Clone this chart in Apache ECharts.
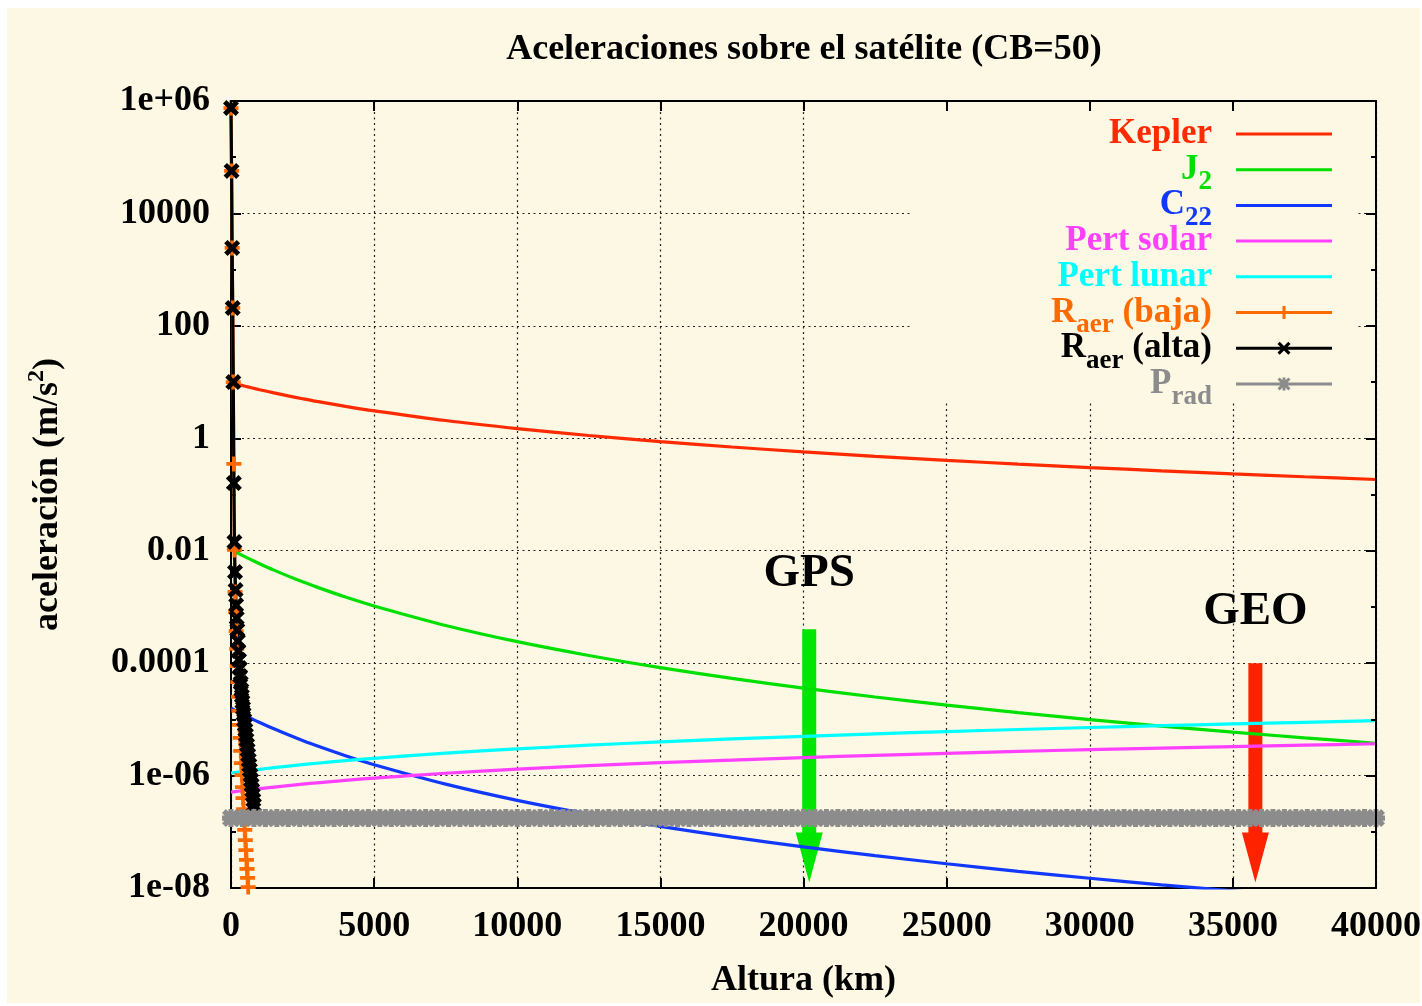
<!DOCTYPE html>
<html>
<head>
<meta charset="utf-8">
<title>Aceleraciones sobre el satélite</title>
<script src="https://cdn.jsdelivr.net/npm/echarts@6/dist/echarts.min.js"></script>
<style>
  html, body { margin: 0; padding: 0; background: #ffffff; }
  #chart { width: 1422px; height: 1006px; }
</style>
</head>
<body>
<div id="chart"></div>
<script>
// Altitude samples (km) for the smooth perturbation curves
const altitudes = [0, 250, 500, 750, 1000, 1500, 2000, 2500, 3000, 4000, 5000, 7500, 10000,
  12500, 15000, 17500, 20000, 22500, 25000, 27500, 30000, 32500, 35000, 37500, 40000];

// Accelerations (m/s^2)
const kepler = [9.80, 9.07, 8.43, 7.85, 7.32, 6.42, 5.68, 5.06, 4.53, 3.70, 3.08, 2.07, 1.49,
  1.12, 0.872, 0.699, 0.573, 0.478, 0.405, 0.347, 0.301, 0.264, 0.233, 0.207, 0.185];
const j2 = [1.05e-2, 9.00e-3, 7.76e-3, 6.73e-3, 5.86e-3, 4.51e-3, 3.53e-3, 2.80e-3, 2.25e-3,
  1.50e-3, 1.04e-3, 4.68e-4, 2.41e-4, 1.37e-4, 8.32e-5, 5.35e-5, 3.59e-5, 2.50e-5, 1.79e-5,
  1.32e-5, 9.92e-6, 7.60e-6, 5.93e-6, 4.69e-6, 3.76e-6];
const c22 = [1.58e-5, 1.35e-5, 1.17e-5, 1.01e-5, 8.82e-6, 6.79e-6, 5.31e-6, 4.21e-6, 3.38e-6,
  2.25e-6, 1.56e-6, 7.05e-7, 3.63e-7, 2.06e-7, 1.25e-7, 8.04e-8, 5.40e-8, 3.76e-8, 2.70e-8,
  1.98e-8, 1.49e-8, 1.14e-8, 8.93e-9, 7.05e-9, 5.66e-9];
const solar = [5.06e-7, 5.26e-7, 5.45e-7, 5.65e-7, 5.85e-7, 6.25e-7, 6.64e-7, 7.04e-7, 7.44e-7,
  8.23e-7, 9.02e-7, 1.10e-6, 1.30e-6, 1.50e-6, 1.70e-6, 1.89e-6, 2.09e-6, 2.29e-6, 2.49e-6,
  2.69e-6, 2.89e-6, 3.08e-6, 3.28e-6, 3.48e-6, 3.68e-6];
const lunar = [1.110e-6, 1.155e-6, 1.200e-6, 1.245e-6, 1.291e-6, 1.382e-6, 1.473e-6, 1.565e-6,
  1.656e-6, 1.842e-6, 2.028e-6, 2.501e-6, 2.982e-6, 3.473e-6, 3.972e-6, 4.481e-6, 4.998e-6,
  5.525e-6, 6.060e-6, 6.605e-6, 7.158e-6, 7.721e-6, 8.292e-6, 8.873e-6, 9.462e-6];

// Atmospheric drag, low solar activity
const dragLowAltitudes = [0, 20, 40, 60, 80, 100, 120, 140, 160, 180, 200, 220, 240, 260, 280,
  300, 320, 340, 360, 380, 400, 420, 440, 460, 480, 500, 520, 540, 560, 580, 600];
const dragLow = [7.5e5, 5.7e4, 2.43e3, 208, 10, 0.35, 1.03e-2, 1.85e-3, 8.13e-4, 3.73e-4, 1.79e-4,
  8.89e-5, 4.61e-5, 2.50e-5, 1.41e-5, 7.94e-6, 4.66e-6, 2.74e-6, 1.67e-6, 1.02e-6, 6.26e-7,
  3.99e-7, 2.54e-7, 1.62e-7, 1.08e-7, 7.14e-8, 4.74e-8, 3.15e-8, 2.18e-8, 1.51e-8, 1.04e-8];

// Atmospheric drag, high solar activity
const dragHighAltitudes = [0, 20, 40, 60, 80, 100, 120, 140, 160, 180, 200, 220, 240, 260, 280,
  300, 320, 340, 360, 380, 400, 420, 440, 460, 480, 500, 520, 540, 560, 580, 600, 620, 640, 660,
  680, 700, 720, 740, 760, 780, 800];
const dragHigh = [7.5e5, 5.7e4, 2.43e3, 208, 10, 0.16, 1.43e-2, 4.18e-3, 2.00e-3, 1.08e-3, 6.35e-4,
  3.89e-4, 2.48e-4, 1.64e-4, 1.14e-4, 8.20e-5, 5.90e-5, 4.44e-5, 3.33e-5, 2.60e-5, 2.04e-5,
  1.59e-5, 1.24e-5, 9.75e-6, 7.94e-6, 6.47e-6, 5.27e-6, 4.30e-6, 3.50e-6, 2.85e-6, 2.32e-6,
  1.89e-6, 1.54e-6, 1.26e-6, 1.02e-6, 8.34e-7, 6.79e-7, 5.53e-7, 4.51e-7, 3.67e-7, 2.99e-7];

// Solar radiation pressure (constant with altitude), marker positions
const pradAltitudes = [0, 400, 800, 1200, 1600, 2000, 2400, 2800, 3200, 3600, 4000, 4400, 4800,
  5200, 5600, 6000, 6400, 6800, 7200, 7600, 8000, 8400, 8800, 9200, 9600, 10000, 10400, 10800,
  11200, 11600, 12000, 12400, 12800, 13200, 13600, 14000, 14400, 14800, 15200, 15600, 16000,
  16400, 16800, 17200, 17600, 18000, 18400, 18800, 19200, 19600, 20000, 20400, 20800, 21200,
  21600, 22000, 22400, 22800, 23200, 23600, 24000, 24400, 24800, 25200, 25600, 26000, 26400,
  26800, 27200, 27600, 28000, 28400, 28800, 29200, 29600, 30000, 30400, 30800, 31200, 31600,
  32000, 32400, 32800, 33200, 33600, 34000, 34400, 34800, 35200, 35600, 36000, 36400, 36800,
  37200, 37600, 38000, 38400, 38800, 39200, 39600, 40000];
const pradValue = 1.75e-7;

// Reference orbits marked with arrows
const orbitNames = ['GPS', 'GEO'];
const orbitAltitudes = [20200, 35786];
const arrowTops = [4e-4, 1e-4];
const arrowTips = [1.25e-8, 1.25e-8];

// Decade exponents shown on the y axis and their labels
const yTickLabels = { '6': '1e+06', '4': '10000', '2': '100', '0': '1',
  '-2': '0.01', '-4': '0.0001', '-6': '1e-06', '-8': '1e-08' };

const FONT = '"Liberation Serif", "Times New Roman", serif';
const BG = '#fcf8e3';
const COLORS = {
  kepler: '#ff2a00', j2: '#00e000', c22: '#1038ff', solar: '#ff40ff',
  lunar: '#00ffff', low: '#ff6a00', high: '#000000', prad: '#8c8c8c'
};
const arrowColors = ['#00e600', '#ff2200'];
const arrowLabelGaps = [55, 51];

// Marker shapes
const PLUS_SYM = 'path://M6,0H10V6H16V10H10V16H6V10H0V6H6Z';
const X_SYM = 'path://M3.4,0L8,4.6L12.6,0L16,3.4L11.4,8L16,12.6L12.6,16L8,11.4L3.4,16L0,12.6L4.6,8L0,3.4Z';
const STAR_SYM = 'path://M5.75,0H10.25V5.75H16V10.25H10.25V16H5.75V10.25H0V5.75H5.75Z M3.4,0L8,4.6L12.6,0L16,3.4L11.4,8L16,12.6L12.6,16L8,11.4L3.4,16L0,12.6L4.6,8L0,3.4Z';

// Legend samples: a line, optionally with the marker in the middle
const LINE_ICON = 'path://M0,0H96V3H0Z';
const PLUS_ICON = 'path://M0,5H96V8H0Z M46.5,0H49.5V5H54.5V8H49.5V13H46.5V8H41.5V5H46.5Z';
const X_ICON = 'path://M0,5H96V8H0Z M43.7,0L48,4.3L52.3,0L54.5,2.2L50.2,6.5L54.5,10.8L52.3,13L48,8.7L43.7,13L41.5,10.8L45.8,6.5L41.5,2.2Z';
const STAR_ICON = 'path://M0,5H96V8H0Z M46.5,0H49.5V5H54.5V8H49.5V13H46.5V8H41.5V5H46.5Z M43.7,0L48,4.3L52.3,0L54.5,2.2L50.2,6.5L54.5,10.8L52.3,13L48,8.7L43.7,13L41.5,10.8L45.8,6.5L41.5,2.2Z';

const legendLabels = {
  'Kepler': 'Kepler',
  'J2': 'J{sub|2}',
  'C22': 'C{sub|22}',
  'Pert solar': 'Pert solar',
  'Pert lunar': 'Pert lunar',
  'Raer (baja)': 'R{sub|aer} (baja)',
  'Raer (alta)': 'R{sub|aer} (alta)',
  'Prad': 'P{sub|rad}'
};

// Pair altitudes with log10 of the acceleration (the y axis runs in decades)
function toLog(xs, vs) {
  return xs.map((x, i) => [x, Math.log10(vs[i])]);
}

const boldText = { fontFamily: FONT, fontWeight: 'bold', color: '#000' };
const dotted = { color: '#222', width: 1.2, type: [2, 3.5] };
const LEGEND_ROW = 52.4;

function curve(name, xs, vs, color) {
  return {
    name, type: 'line', data: toLog(xs, vs), symbol: 'none', smooth: 0.3,
    lineStyle: { color, width: 3.2 }, itemStyle: { color }, clip: true, z: 2
  };
}

function marked(name, xs, vs, color, symbol, size) {
  return {
    name, type: 'line', data: toLog(xs, vs), symbol, symbolSize: size, showSymbol: true,
    lineStyle: { color, width: 3.2 }, itemStyle: { color }, clip: true, z: 2
  };
}

const chart = echarts.init(document.getElementById('chart'), null, { renderer: 'canvas' });

const option = {
  animation: false,
  backgroundColor: '#ffffff',
  title: {
    text: 'Aceleraciones sobre el satélite (CB=50)',
    left: 804, top: 32, padding: 0, textAlign: 'center',
    textStyle: { ...boldText, fontSize: 36, lineHeight: 36 }
  },
  graphic: [
    { type: 'rect', z: -10, shape: { x: 7, y: 8, width: 1413, height: 995 }, style: { fill: BG } },
    // the key box hides the grid behind it
    { type: 'rect', z: 1, shape: { x: 912, y: 103, width: 443, height: 297 }, style: { fill: BG } }
  ],
  grid: { left: 231, top: 101, width: 1145, height: 787, outerBoundsMode: 'none' },
  legend: {
    orient: 'vertical', right: 90, top: 134 - LEGEND_ROW / 2, align: 'right', padding: 0,
    itemWidth: 96, itemHeight: 16, itemGap: 35.7 - LEGEND_ROW, selectedMode: false,
    formatter: name => legendLabels[name],
    textStyle: {
      fontFamily: FONT, fontWeight: 'bold', fontSize: 35, lineHeight: LEGEND_ROW,
      padding: [0, 19, 0, 0],
      rich: {
        sub: { fontFamily: FONT, fontWeight: 'bold', fontSize: 27, lineHeight: LEGEND_ROW, verticalAlign: 'bottom' }
      }
    },
    data: [
      { name: 'Kepler', icon: LINE_ICON, textStyle: { color: COLORS.kepler } },
      { name: 'J2', icon: LINE_ICON, textStyle: { color: COLORS.j2 } },
      { name: 'C22', icon: LINE_ICON, textStyle: { color: COLORS.c22 } },
      { name: 'Pert solar', icon: LINE_ICON, textStyle: { color: COLORS.solar } },
      { name: 'Pert lunar', icon: LINE_ICON, textStyle: { color: COLORS.lunar } },
      { name: 'Raer (baja)', icon: PLUS_ICON, textStyle: { color: COLORS.low } },
      { name: 'Raer (alta)', icon: X_ICON, textStyle: { color: COLORS.high } },
      { name: 'Prad', icon: STAR_ICON, textStyle: { color: COLORS.prad } }
    ]
  },
  xAxis: [
    {
      type: 'value', position: 'bottom', min: 0, max: 40000, interval: 5000, z: 0,
      axisLine: { onZero: false, lineStyle: { color: '#000', width: 2 } },
      axisTick: { inside: true, length: 10, lineStyle: { color: '#000', width: 2 } },
      axisLabel: { ...boldText, fontSize: 36, lineHeight: 36, margin: 21, formatter: v => String(v) },
      splitLine: { show: true, lineStyle: dotted },
      name: 'Altura (km)', nameLocation: 'middle', nameGap: 75,
      nameTextStyle: { ...boldText, fontSize: 36, lineHeight: 36 }
    },
    {
      type: 'value', position: 'top', min: 0, max: 40000, interval: 5000, z: 3,
      axisLine: { onZero: false, lineStyle: { color: '#000', width: 2 } },
      axisTick: { inside: true, length: 10, lineStyle: { color: '#000', width: 2 } },
      axisLabel: { show: false }, splitLine: { show: false }
    }
  ],
  yAxis: [
    {
      type: 'value', position: 'left', min: -8, max: 6, interval: 2, z: 0,
      axisLine: { onZero: false, lineStyle: { color: '#000', width: 2 } },
      axisTick: { inside: true, length: 10, lineStyle: { color: '#000', width: 2 } },
      minorTick: { show: true, splitNumber: 2, length: 5, lineStyle: { color: '#000', width: 2 } },
      axisLabel: { ...boldText, fontSize: 36, margin: 21, formatter: v => yTickLabels[String(v)] },
      splitLine: { show: true, lineStyle: dotted },
      name: 'aceleración (m/s{sup|2})', nameLocation: 'middle', nameGap: 165, nameRotate: 90,
      nameTextStyle: {
        ...boldText, fontSize: 36, lineHeight: 36,
        rich: { sup: { fontFamily: FONT, fontWeight: 'bold', color: '#000', fontSize: 24, lineHeight: 36, padding: [0, 0, 22, 0] } }
      }
    },
    {
      type: 'value', position: 'right', min: -8, max: 6, interval: 2, z: 3,
      axisLine: { onZero: false, lineStyle: { color: '#000', width: 2 } },
      axisTick: { inside: true, length: 10, lineStyle: { color: '#000', width: 2 } },
      minorTick: { show: true, splitNumber: 2, length: 5, lineStyle: { color: '#000', width: 2 } },
      axisLabel: { show: false }, splitLine: { show: false }
    }
  ],
  series: [
    {
      name: 'orbits', type: 'custom', z: 1, silent: true,
      data: orbitAltitudes.map((h, i) => [h, Math.log10(arrowTops[i]), Math.log10(arrowTips[i]), i]),
      encode: { x: 0, y: [1, 2] },
      renderItem: function (params, api) {
        const top = api.coord([api.value(0), api.value(1)]);
        const tip = api.coord([api.value(0), api.value(2)]);
        const i = api.value(3);
        const x = top[0];
        const shaft = 7, head = 13.5, headLen = 50;
        const pts = [
          [x - shaft, top[1]], [x + shaft, top[1]], [x + shaft, tip[1] - headLen],
          [x + head, tip[1] - headLen], [x, tip[1]], [x - head, tip[1] - headLen],
          [x - shaft, tip[1] - headLen]
        ];
        return {
          type: 'group',
          children: [
            { type: 'polygon', shape: { points: pts }, style: { fill: arrowColors[i] } },
            {
              type: 'text', x: x, y: top[1] - arrowLabelGaps[i],
              style: {
                text: orbitNames[i], fill: '#000', align: 'center', verticalAlign: 'middle',
                font: 'bold 47px "Liberation Serif", "Times New Roman", serif'
              }
            }
          ]
        };
      }
    },
    curve('Kepler', altitudes, kepler, COLORS.kepler),
    curve('J2', altitudes, j2, COLORS.j2),
    curve('C22', altitudes, c22, COLORS.c22),
    curve('Pert solar', altitudes, solar, COLORS.solar),
    curve('Pert lunar', altitudes, lunar, COLORS.lunar),
    marked('Raer (baja)', dragLowAltitudes, dragLow, COLORS.low, PLUS_SYM, 15),
    marked('Raer (alta)', dragHighAltitudes, dragHigh, COLORS.high, X_SYM, 16),
    marked('Prad', pradAltitudes, pradAltitudes.map(() => pradValue), COLORS.prad, STAR_SYM, 18)
  ]
};

chart.setOption(option);
</script>
</body>
</html>
